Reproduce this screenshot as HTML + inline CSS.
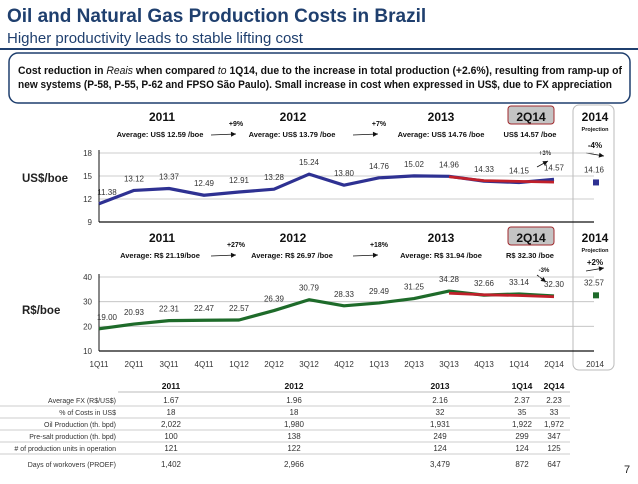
<!DOCTYPE html>
<html><head><meta charset="utf-8"><style>
body{margin:0;width:638px;height:479px;background:#fff;overflow:hidden;font-family:"Liberation Sans",sans-serif;}
svg text{font-family:"Liberation Sans",sans-serif;}
</style></head><body>
<svg id="s" width="638" height="479" viewBox="0 0 638 479" xmlns="http://www.w3.org/2000/svg">
<text x="7" y="22" font-size="19" font-weight="bold" fill="#1F3F6E">Oil and Natural Gas Production Costs in Brazil</text>
<text x="7" y="43" font-size="15" fill="#1F3F6E">Higher productivity leads to stable lifting cost</text>
<rect x="0" y="48" width="638" height="2" fill="#1F3F6E"/>
<rect x="9" y="53" width="621" height="50" rx="9" fill="#fff" stroke="#1F3F6E" stroke-width="1.5"/>
<text x="18" y="74" font-size="11" font-weight="bold" fill="#111" textLength="604" lengthAdjust="spacingAndGlyphs">Cost reduction in <tspan font-style="italic" font-weight="normal">Reais</tspan> when compared <tspan font-style="italic" font-weight="normal">to</tspan> 1Q14, due to the increase in total production (+2.6%), resulting from ramp-up of</text>
<text x="18" y="88" font-size="11" font-weight="bold" fill="#111" textLength="594" lengthAdjust="spacingAndGlyphs">new systems (P-58, P-55, P-62 and FPSO São Paulo).  Small increase in cost when expressed in US$, due to FX appreciation</text>
<rect x="573" y="105" width="41" height="265" rx="6" fill="none" stroke="#bbb" stroke-width="1"/>
<g id="hdr"></g>
<g id="c1"></g><g id="c2"></g><g id="tbl"></g>
<text x="624" y="473" font-size="11" fill="#222">7</text>
</svg>
<script>
const NS="http://www.w3.org/2000/svg";
const quarters=["1Q11","2Q11","3Q11","4Q11","1Q12","2Q12","3Q12","4Q12","1Q13","2Q13","3Q13","4Q13","1Q14","2Q14"];
const usd=[11.38,13.12,13.37,12.49,12.91,13.28,15.24,13.80,14.76,15.02,14.96,14.33,14.15,14.57];
const usdTrend=[14.9,14.4,14.3,14.2];
const usdProj=14.16;
const usdTicks=[9,12,15,18];
const brl=[19.00,20.93,22.31,22.47,22.57,26.39,30.79,28.33,29.49,31.25,34.28,32.66,33.14,32.30];
const brlTrend=[33.4,32.8,32.5,32.0];
const brlProj=32.57;
const brlTicks=[10,20,30,40];
function el(p,t,a,txt){const e=document.createElementNS(NS,t);for(const k in a)e.setAttribute(k,a[k]);if(txt!==undefined)e.textContent=txt;p.appendChild(e);return e;}
const xq=i=>99+i*35;
function chart(g,vals,trend,proj,ticks,y0,y1,top,bot,color,unit,uy,nm){
  const ys=v=>bot-(v-y0)/(y1-y0)*(bot-top);
  ticks.forEach((t,k)=>{
    const l=el(g,"line",{x1:99,x2:594,y1:ys(t),y2:ys(t),stroke:k==0?"#111":"#bdbdbd","stroke-width":k==0?1.2:0.8});
    
    
    const tx=el(g,"text",{x:92,y:ys(t)+3,"font-size":8,"text-anchor":"end",fill:"#333"},t);
    
    
  });
  const ax=el(g,"line",{x1:99,x2:99,y1:top-3,y2:bot,stroke:"#111","stroke-width":1});
  
  
  const lt=el(g,"text",{x:22,y:uy,"font-size":11.5,"font-weight":"bold",fill:"#222"},unit);
  
  
  const pl=el(g,"polyline",{points:vals.map((v,i)=>xq(i)+","+ys(v)).join(" "),fill:"none",stroke:color,"stroke-width":3.2,"stroke-linejoin":"round"});
  
  
  const tr=el(g,"polyline",{points:trend.map((v,i)=>xq(10+i)+","+ys(v)).join(" "),fill:"none",stroke:"#C0202A","stroke-width":2.8,"stroke-linejoin":"round"});
  
  
  vals.forEach((v,i)=>{
    const t=el(g,"text",{x:xq(i)+(i==0?8:0),y:ys(v)-9,"font-size":8,"text-anchor":"middle",fill:"#333"},v.toFixed(2));
    
    
  });
  const sq=el(g,"rect",{x:593,y:ys(proj)-3,width:6,height:6,fill:color});
  
  
  const pt=el(g,"text",{x:594,y:ys(proj)-10,"font-size":8,"text-anchor":"middle",fill:"#333"},proj.toFixed(2));
  
  
  return ys;
}
chart(document.getElementById("c1"),usd,usdTrend,usdProj,usdTicks,9,18,153,222,"#2E3192","US$/boe",182,"usd");
chart(document.getElementById("c2"),brl,brlTrend,brlProj,brlTicks,10,40,277,351,"#1E6B2A","R$/boe",314,"brl");
const c2=document.getElementById("c2");
quarters.forEach((q,i)=>{const t=el(c2,"text",{x:xq(i),y:367,"font-size":8,"text-anchor":"middle",fill:"#333"},q);
  
  });
const xt=el(c2,"text",{x:595,y:367,"font-size":8,"text-anchor":"middle",fill:"#333"},"2014");


const hdr=document.getElementById("hdr");
function arrow(x1,y1,x2,y2){const l=el(hdr,"line",{x1,y1,x2,y2,stroke:"#111","stroke-width":0.8});
  
  const a=Math.atan2(y2-y1,x2-x1);
  const p=el(hdr,"polygon",{points:`${x2},${y2} ${x2-5*Math.cos(a)+2.5*Math.sin(a)},${y2-5*Math.sin(a)-2.5*Math.cos(a)} ${x2-5*Math.cos(a)-2.5*Math.sin(a)},${y2-5*Math.sin(a)+2.5*Math.cos(a)}`,fill:"#111"});
  }
function T(x,y,s,txt,b,nm){const t=el(hdr,"text",{x,y,"font-size":s,"text-anchor":"middle","font-weight":b?"bold":"normal",fill:"#111"},txt);
  }
[[121,"usd",["Average: US$ 12.59 /boe","Average: US$ 13.79 /boe","Average: US$ 14.76 /boe","US$ 14.57 /boe"],["+9%","+7%"]],
 [242,"brl",["Average: R$ 21.19/boe","Average: R$ 26.97 /boe","Average: R$ 31.94 /boe","R$ 32.30 /boe"],["+27%","+18%"]]].forEach(([y,nm,avg,pc])=>{
  T(162,y,12,"2011",1,nm+"-year-2011");T(293,y,12,"2012",1,nm+"-year-2012");T(441,y,12,"2013",1,nm+"-year-2013");
  const r=el(hdr,"rect",{x:508,y:y-15,width:46,height:18,rx:3,fill:"#c4c4c4",stroke:"#a0282c","stroke-width":1});
  
  T(531,y,12,"2Q14",1,nm+"-2q14-label");T(595,y,12,"2014",1,nm+"-year-2014");
  T(595,y+10,5.5,"Projection",1,nm+"-projection-label");
  T(160,y+16,7.5,avg[0],1,nm+"-avg-2011");T(292,y+16,7.5,avg[1],1,nm+"-avg-2012");T(441,y+16,7.5,avg[2],1,nm+"-avg-2013");T(530,y+16,7.5,avg[3],1,nm+"-avg-2q14");
  T(236,y+5,7,pc[0],1,nm+"-growth-1");T(379,y+5,7,pc[1],1,nm+"-growth-2");
  arrow(211,y+14,236,y+13);arrow(353,y+14,378,y+13);
});
T(545,155,6,"+3%",1,"usd-q-change");arrow(537,167,548,161);
T(595,148,8,"-4%",1,"usd-proj-change");arrow(586,153,604,156);
T(544,272,6,"-3%",1,"brl-q-change");arrow(537,275,546,282);
T(595,265,8,"+2%",1,"brl-proj-change");arrow(586,271,604,268);
const tbl=document.getElementById("tbl");
const cols=[171,294,440,522,554];
const colHdr=["2011","2012","2013","1Q14","2Q14"];
const rows=[["Average FX (R$/US$)","1.67","1.96","2.16","2.37","2.23"],["% of Costs in US$","18","18","32","35","33"],["Oil Production (th. bpd)","2,022","1,980","1,931","1,922","1,972"],["Pre-salt production (th. bpd)","100","138","249","299","347"],["# of production units in operation","121","122","124","124","125"],["Days of workovers (PROEF)","1,402","2,966","3,479","872","647"]];
const ry=[403,415,427,439,451,467];
colHdr.forEach((h,i)=>{const t=el(tbl,"text",{x:cols[i],y:389,"font-size":8.5,"font-weight":"bold","text-anchor":"middle",fill:"#111"},h);
  });
rows.forEach((r,j)=>{
  const t=el(tbl,"text",{x:116,y:ry[j],"font-size":7,"text-anchor":"end",fill:"#333"},r[0]);
  
  r.slice(1).forEach((v,i)=>{const c=el(tbl,"text",{x:cols[i],y:ry[j],"font-size":8,"text-anchor":"middle",fill:"#333"},v);
    });
  if(j<5){const l=el(tbl,"line",{x1:0,x2:570,y1:ry[j]+3,y2:ry[j]+3,stroke:"#bbb","stroke-width":0.7});
    }
});
const hl=el(tbl,"line",{x1:118,x2:570,y1:392,y2:392,stroke:"#bbb","stroke-width":1});

</script>
</body></html>
